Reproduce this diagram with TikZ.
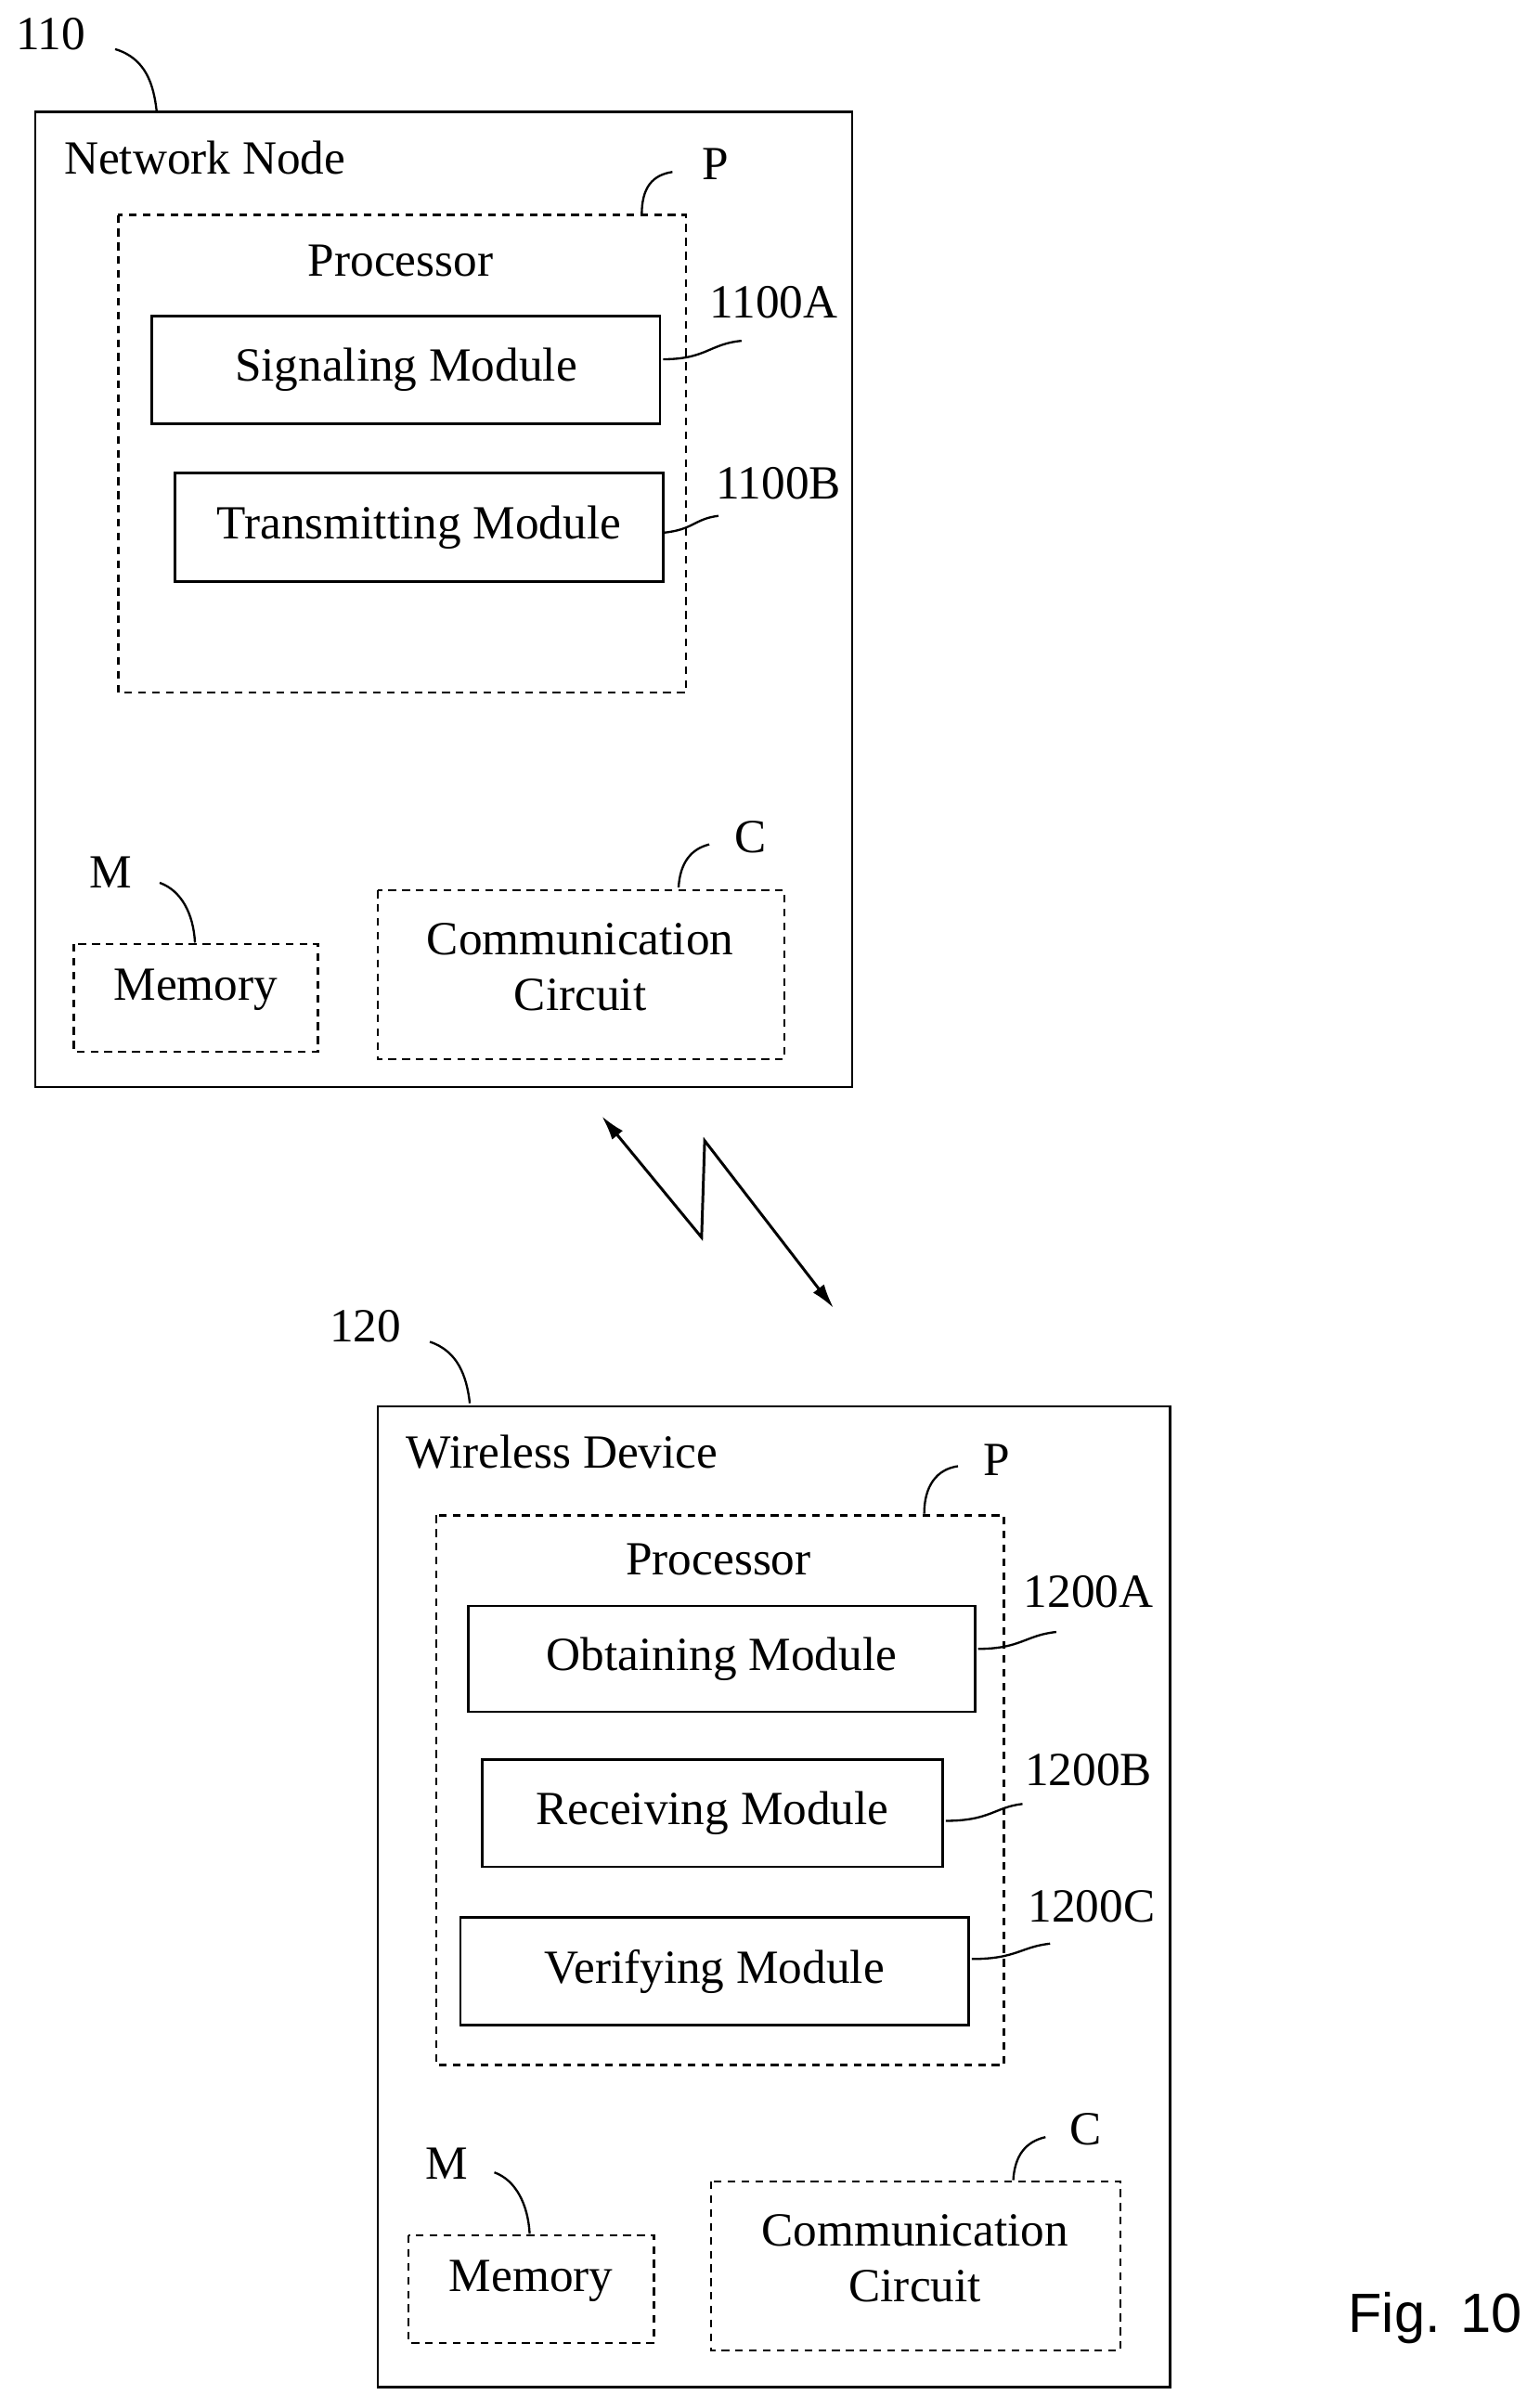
\documentclass[tikz,border=0pt]{standalone}
\usepackage{fontspec}
\usetikzlibrary{arrows.meta}
\setmainfont{Liberation Serif}
\newfontfamily\figsans{Liberation Sans}
\begin{document}
\begin{tikzpicture}[x=1pt,y=-1pt,line width=1.6pt,
  box/.style={draw,line width=1.6pt},
  dbox/.style={draw,dash pattern=on 5pt off 4pt,line width=1.4pt},
  txt/.style={font=\fontsize{31}{36}\selectfont,inner sep=0pt},
  lead/.style={line width=1.4pt}]
\useasboundingbox (0,0) rectangle (1003,1560);
% network node
\draw[box] (23,73) rectangle (555,708);
\node[txt] (l110) at (33,22) {110};
\draw[lead] (75,32) .. controls (95,38) and (100,55) .. (102,72);
\node[txt,anchor=west] (nn) at (41,103) {Network Node};
\draw[dbox] (77,140) rectangle (447,451);
\node[txt] (proc1) at (261,170) {Processor};
\node[box,minimum width=331pt,minimum height=70pt,txt] (sig) at (264.5,241) {Signaling Module};
\node[box,minimum width=318pt,minimum height=71pt,txt] (tra) at (273,343.5) {Transmitting Module};
\node[txt] (a) at (504,197) {1100A};
\draw[lead] (432,234) .. controls (460,234) and (462,224) .. (483,222);
\node[txt] (b) at (507,315) {1100B};
\draw[lead] (432,347) .. controls (452,345) and (452,338) .. (468,336);
\node[txt] (p1) at (466,107) {P};
\draw[lead] (418,140) .. controls (418,122) and (425,114) .. (438,112);
\draw[dbox] (48,615) rectangle (207,685);
\node[txt] (mem1) at (127.5,645) {Memory};
\node[txt] (m1) at (72,568) {M};
\draw[lead] (104,575) .. controls (118,580) and (126,595) .. (127,614);
\draw[dbox] (246,580) rectangle (511,690);
\node[txt,align=center] (cc1) at (378,630) {Communication\\Circuit};
\node[txt] (c1) at (489,545) {C};
\draw[lead] (442,578) .. controls (443,562) and (450,553) .. (462,550);
% lightning
\coordinate (z1) at (392,727);
\coordinate (z2) at (457,806);
\coordinate (z3) at (459,743);
\coordinate (z4) at (543,852);
\draw[line width=1.8pt,{Latex[length=16pt,width=9pt]}-{Latex[length=16pt,width=9pt]}] (z1) -- (z2) -- (z3) -- (z4);
% wireless device
\draw[box] (246,916) rectangle (762,1555);
\node[txt] (l120) at (238,864) {120};
\draw[lead] (280,874) .. controls (298,880) and (304,896) .. (306,914);
\node[txt,anchor=west] (wd) at (264,946) {Wireless Device};
\draw[dbox] (284,987) rectangle (654,1345);
\node[txt] (proc2) at (468,1016) {Processor};
\node[box,minimum width=330pt,minimum height=69pt,txt] (obt) at (470,1080.5) {Obtaining Module};
\node[box,minimum width=300pt,minimum height=70pt,txt] (rec) at (464,1181) {Receiving Module};
\node[box,minimum width=331pt,minimum height=70pt,txt] (ver) at (465.5,1284) {Verifying Module};
\node[txt] (ca) at (709,1037) {1200A};
\draw[lead] (637,1074) .. controls (665,1074) and (668,1065) .. (688,1063);
\node[txt] (cb) at (709,1153) {1200B};
\draw[lead] (616,1186) .. controls (645,1186) and (648,1177) .. (666,1175);
\node[txt] (ccc) at (711,1242) {1200C};
\draw[lead] (633,1276) .. controls (662,1276) and (665,1268) .. (684,1266);
\node[txt] (p2) at (649,951) {P};
\draw[lead] (602,986) .. controls (602,968) and (610,957) .. (624,955);
\draw[dbox] (266,1456) rectangle (426,1526);
\node[txt] (mem2) at (346,1486) {Memory};
\node[txt] (m2) at (291,1409) {M};
\draw[lead] (322,1415) .. controls (336,1420) and (344,1436) .. (345,1455);
\draw[dbox] (463,1421) rectangle (730,1531);
\node[txt,align=center] (cc2) at (596,1471) {Communication\\Circuit};
\node[txt] (c2) at (707,1387) {C};
\draw[lead] (660,1420) .. controls (661,1404) and (668,1395) .. (681,1392);
\node[inner sep=0pt,font=\figsans\fontsize{36}{40}\selectfont] (fig) at (935,1510) {Fig. 10};
\end{tikzpicture}
\end{document}
